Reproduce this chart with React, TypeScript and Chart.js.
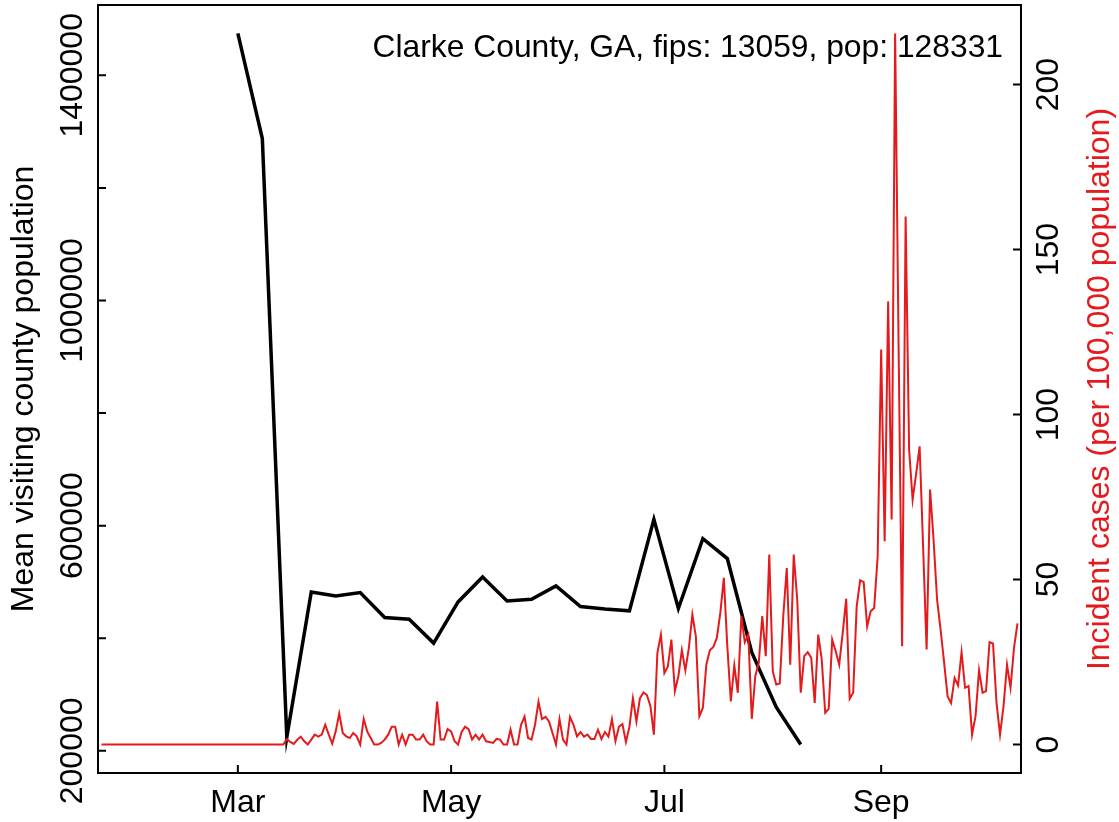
import React, { useEffect, useRef } from "react";
import { Chart, registerables } from "chart.js";

Chart.register(...registerables);

const FONT = "'Liberation Sans', Arial, Helvetica, sans-serif";
const RED = "#E41A1C";

// Weekly mean visiting county population (black line)
const blackDates = [
  "2020-03-01", "2020-03-08", "2020-03-15", "2020-03-22", "2020-03-29", "2020-04-05",
  "2020-04-12", "2020-04-19", "2020-04-26", "2020-05-03", "2020-05-10", "2020-05-17",
  "2020-05-24", "2020-05-31", "2020-06-07", "2020-06-14", "2020-06-21", "2020-06-28",
  "2020-07-05", "2020-07-12", "2020-07-19", "2020-07-26", "2020-08-02", "2020-08-09",
];
const blackValues = [
  1474400, 1287700, 224300, 482300, 475300, 481300,
  437000, 434000, 391400, 464600, 508900, 466400,
  469400, 493000, 456500, 452000, 448700, 611200,
  452900, 577000, 541500, 375000, 277500, 211200,
];

// Daily incident cases per 100,000 (red line), one value per day from redStartDate
const redStartDate = "2020-01-22";
const redValues = [
  0, 0, 0, 0, 0, 0, 0, 0, 0, 0,
  0, 0, 0, 0, 0, 0, 0, 0, 0, 0,
  0, 0, 0, 0, 0, 0, 0, 0, 0, 0,
  0, 0, 0, 0, 0, 0, 0, 0, 0, 0,
  0, 0, 0, 0, 0, 0, 0, 0, 0, 0,
  0, 0,
  0, 1.7, 0.8, 0.2, 1.5, 2.4, 1, 0, 1.5, 3,
  2.4, 3, 6, 3, 0.3, 4, 9.4, 3.5, 2.5, 2,
  3.5, 2.5, 0, 7.8, 4, 2, 0, 0, 0.5, 1.5,
  3, 5.4, 5.4, 0, 3, 0, 3, 3, 1.5, 1.5,
  3, 1, 0, 0, 13, 1.5, 1.5, 4.7, 4, 1,
  0, 3.8, 5.4, 4.7, 1.5, 3, 1.5, 3, 1, 0.8,
  0.5, 1.7, 1.5, 0, 0, 4.5, 0, 0, 6, 8.5,
  2, 1.5, 6, 13, 7.7, 8.4, 7, 3.5, 0, 7.7,
  1.5, 0, 8.4, 6, 2.5, 3.8, 2.4, 3, 1.7, 1.7,
  4.5, 1.7, 3.8, 2.4, 7.7, 1, 5.4, 6.2, 0.8, 5.4,
  14, 7, 14, 15.8, 15, 11.7, 3, 27.8, 33.3, 21.7,
  23.7, 31.8, 16.2, 20.7, 28.6, 22.5, 29.3, 39.4, 32.8, 8.6,
  11.1, 24.2, 28.6, 29.6, 32.3, 39.9, 50.5, 29.8, 13.1, 24,
  15.7, 38.9, 31, 33.3, 7.8, 20.7, 24.8, 38.9, 26.8, 57.6,
  22.2, 18.2, 18.5, 38.9, 53.5, 24.2, 57.6, 43.9, 15.7, 26.8,
  28, 26.3, 12.6, 33.3, 25.8, 9.6, 10.8, 31.8, 28.3, 24.2,
  33.8, 44.2, 13.9, 15.7, 41.9, 49.8, 49.2, 35.8, 40.4, 41.4,
  57, 119.7, 61.6, 134.3, 68.2, 215.5, 120, 29.8, 160, 89.4,
  74.2, 82, 90.4, 60, 28.8, 77.3, 62, 43.9, 34.8, 25,
  14.6, 12.6, 20.2, 17.9, 28, 17.2, 17.7, 3, 8.6, 22.5,
  15.7, 16.2, 31, 30.6, 12.6, 3, 11.6, 24.2, 17.2, 29.3,
  36.7,
];

const xTickDates = ["2020-03-01", "2020-05-01", "2020-07-01", "2020-09-01"];
const xTickLabels = ["Mar", "May", "Jul", "Sep"];
const leftTicks = [200000, 400000, 600000, 800000, 1000000, 1200000, 1400000];
const leftTickLabels = ["200000", "", "600000", "", "1000000", "", "1400000"];
const rightTicks = [0, 50, 100, 150, 200];
const rightTickLabels = ["0", "50", "100", "150", "200"];

const leftTitle = "Mean visiting county population";
const rightTitle = "Incident cases (per 100,000 population)";
const annotation = "Clarke County, GA, fips: 13059, pop: 128331";

const ORIGIN = Date.UTC(2020, 2, 1);
const dayOf = (s: string) => {
  const [y, m, d] = s.split("-").map(Number);
  return Math.round((Date.UTC(y, m - 1, d) - ORIGIN) / 86400000);
};
const pad4 = (vals: number[]) => {
  const mn = Math.min(...vals);
  const mx = Math.max(...vals);
  const r = mx - mn;
  return [mn - 0.04 * r, mx + 0.04 * r];
};

export default function App() {
  const ref = useRef<HTMLCanvasElement | null>(null);

  useEffect(() => {
    if (!ref.current) return;
    const redStart = dayOf(redStartDate);
    const redEnd = redStart + redValues.length - 1;
    const redData = redValues.map((v, i) => ({ x: redStart + i, y: v }));
    const blackData = blackValues.map((v, i) => ({ x: dayOf(blackDates[i]), y: v }));
    const xTicks = xTickDates.map(dayOf);
    const [lMin, lMax] = pad4(blackValues);
    const [rMin, rMax] = pad4(redValues);

    const vtext = (ctx: CanvasRenderingContext2D, txt: string, x: number, y: number) => {
      ctx.save();
      ctx.translate(x, y);
      ctx.rotate(-Math.PI / 2);
      ctx.textAlign = "center";
      ctx.textBaseline = "alphabetic";
      ctx.fillText(txt, 0, 0);
      ctx.restore();
    };

    const decor = {
      id: "decor",
      afterDatasetsDraw(chart: any) {
        const { ctx, chartArea: a, scales } = chart;
        ctx.save();
        ctx.strokeStyle = "#000";
        ctx.lineWidth = 2;
        ctx.strokeRect(a.left, a.top, a.right - a.left, a.bottom - a.top);
        const TL = 8;
        ctx.beginPath();
        xTicks.forEach((v) => {
          const px = scales.x.getPixelForValue(v);
          ctx.moveTo(px, a.bottom);
          ctx.lineTo(px, a.bottom - TL);
        });
        leftTicks.forEach((v) => {
          const py = scales.y.getPixelForValue(v);
          ctx.moveTo(a.left, py);
          ctx.lineTo(a.left + TL, py);
        });
        rightTicks.forEach((v) => {
          const py = scales.y2.getPixelForValue(v);
          ctx.moveTo(a.right, py);
          ctx.lineTo(a.right - TL, py);
        });
        ctx.stroke();

        ctx.font = `32px ${FONT}`;
        ctx.fillStyle = "#000";
        leftTicks.forEach((v, i) => {
          if (leftTickLabels[i]) vtext(ctx, leftTickLabels[i], a.left - 16, scales.y.getPixelForValue(v));
        });
        rightTicks.forEach((v, i) => {
          vtext(ctx, rightTickLabels[i], a.right + 37, scales.y2.getPixelForValue(v));
        });
        const cy = (a.top + a.bottom) / 2;
        vtext(ctx, leftTitle, 33, cy);
        ctx.fillStyle = RED;
        vtext(ctx, rightTitle, a.right + 88, cy);

        ctx.fillStyle = "#000";
        ctx.textAlign = "right";
        ctx.textBaseline = "alphabetic";
        ctx.font = `31.8px ${FONT}`;
        ctx.fillText(annotation, a.right - 18, 57);
        ctx.restore();
      },
    };

    const chart = new Chart(ref.current, {
      type: "line",
      data: {
        datasets: [
          {
            data: redData,
            yAxisID: "y2",
            borderColor: RED,
            borderWidth: 2,
            pointRadius: 0,
            tension: 0,
          },
          {
            data: blackData,
            yAxisID: "y",
            borderColor: "#000",
            borderWidth: 3.5,
            pointRadius: 0,
            tension: 0,
          },
        ],
      },
      options: {
        animation: false,
        responsive: true,
        maintainAspectRatio: false,
        events: [],
        layout: { padding: { top: 5, left: 0, right: 0, bottom: 0 } },
        plugins: { legend: { display: false }, tooltip: { enabled: false }, title: { display: false } },
        scales: {
          x: {
            type: "linear",
            position: "bottom",
            min: redStart - 1,
            max: redEnd + 1,
            grid: { display: false },
            border: { display: false },
            afterBuildTicks: (s: any) => {
              s.ticks = xTicks.map((v) => ({ value: v }));
            },
            afterFit: (s: any) => {
              s.height = 49;
            },
            ticks: {
              autoSkip: false,
              maxRotation: 0,
              minRotation: 0,
              padding: 3,
              color: "#000",
              font: { family: FONT, size: 32 },
              callback: (v: any) => {
                const i = xTicks.indexOf(Number(v));
                return i >= 0 ? xTickLabels[i] : "";
              },
            },
          },
          y: {
            type: "linear",
            position: "left",
            min: lMin,
            max: lMax,
            grid: { display: false },
            border: { display: false },
            ticks: { display: false },
            afterBuildTicks: (s: any) => {
              s.ticks = leftTicks.map((v) => ({ value: v }));
            },
            afterFit: (s: any) => {
              s.width = 98;
            },
          },
          y2: {
            type: "linear",
            position: "right",
            min: rMin,
            max: rMax,
            grid: { display: false },
            border: { display: false },
            ticks: { display: false },
            afterBuildTicks: (s: any) => {
              s.ticks = rightTicks.map((v) => ({ value: v }));
            },
            afterFit: (s: any) => {
              s.width = 98;
            },
          },
        },
      },
      plugins: [decor],
    });
    return () => chart.destroy();
  }, []);

  return (
    <div style={{ position: "absolute", left: 0, top: 0, width: 1119, height: 822, background: "#fff" }}>
      <canvas ref={ref} />
    </div>
  );
}
